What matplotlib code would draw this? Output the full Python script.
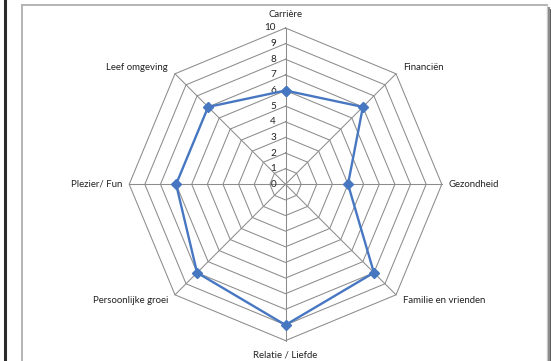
import numpy as np
import matplotlib
matplotlib.use("Agg")
import matplotlib.pyplot as plt
from matplotlib.lines import Line2D

categories = ["Carrière", "Financiën", "Gezondheid", "Familie en vrienden",
              "Relatie / Liefde", "Persoonlijke groei", "Plezier/ Fun", "Leef omgeving"]
scores = [6, 7, 4, 8, 9, 8, 7, 7]
ticks = list(range(0, 11))
r_max = 10

plt.rcParams["font.family"] = ["Lato", "DejaVu Sans"]

W, H = 551, 361
fig = plt.figure(figsize=(W / 100, H / 100), dpi=100)
fig.patch.set_facecolor("white")

# page frame decorations (figure pixel coordinates, origin top-left)
def fx(px):
    return px / W

def fy(py):
    return 1 - py / H

fig.add_artist(Line2D([fx(4.5), fx(4.5)], [0, 1], color="#2b2b2b", lw=2.2))
fig.add_artist(Line2D([fx(22), fx(22)], [0, fy(5)], color="#b4b4b4", lw=1.4))
fig.add_artist(Line2D([fx(22), fx(547)], [fy(5), fy(5)], color="#b4b4b4", lw=1.4))
fig.add_artist(Line2D([fx(546.5), fx(546.5)], [0, fy(5)], color="#c8c8c8", lw=1.0))
fig.add_artist(Line2D([fx(548.5), fx(548.5)], [0, fy(8)], color="#8a8a8a", lw=1.4))
fig.add_artist(Line2D([fx(550.5), fx(550.5)], [0, fy(10)], color="#5a5a5a", lw=1.4))

# radar axes: data units = score units
cx, cy, unit = 285.5, 184.3, 15.63
lim = 11
half = lim * unit
ax = fig.add_axes([fx(cx - half), fy(cy + half), 2 * half / W, 2 * half / H])
ax.set_xlim(-lim, lim)
ax.set_ylim(-lim, lim)
ax.set_axis_off()

n = len(categories)
angles = np.pi / 2 - np.arange(n) * 2 * np.pi / n
ux, uy = np.cos(angles), np.sin(angles)

grid_col = "#8c8c8c"
for t in ticks[1:]:
    xs = np.append(ux * t, ux[0] * t)
    ys = np.append(uy * t, uy[0] * t)
    ax.plot(xs, ys, color=grid_col, lw=0.75, zorder=1)
for i in range(n):
    ax.plot([0, ux[i] * r_max], [0, uy[i] * r_max], color=grid_col, lw=0.75, zorder=1)

# tick labels along the top spoke
for t in ticks:
    ax.text(-0.6, t, str(t), ha="right", va="center", fontsize=7.2, color="#222222")

# series
vals = np.array(scores, dtype=float)
xs = np.append(ux * vals, ux[0] * vals[0])
ys = np.append(uy * vals, uy[0] * vals[0])
ax.plot(xs, ys, color="#4877c2", lw=1.7, zorder=3,
        marker="D", markersize=4.6, markerfacecolor="#4877c2", markeredgecolor="#4877c2")

# category labels
pad = 0.45
for i, name in enumerate(categories):
    x, y = ux[i] * r_max, uy[i] * r_max
    c, s = ux[i], uy[i]
    if abs(c) < 1e-6:
        ha = "center"
        xo = 0
    elif c > 0:
        ha = "left"
        xo = pad
    else:
        ha = "right"
        xo = -pad
    if abs(s) < 1e-6:
        va = "center"
        yo = 0
    elif s > 0:
        va = "bottom" if abs(c) < 1e-6 else "center"
        yo = 0.6 if abs(c) < 1e-6 else 0.38
    else:
        va = "top" if abs(c) < 1e-6 else "center"
        yo = -0.62 if abs(c) < 1e-6 else -0.38
    ax.text(x + xo, y + yo, name, ha=ha, va=va, fontsize=6.9, color="#222222")

fig.savefig("out.png", dpi=100, facecolor="white")
